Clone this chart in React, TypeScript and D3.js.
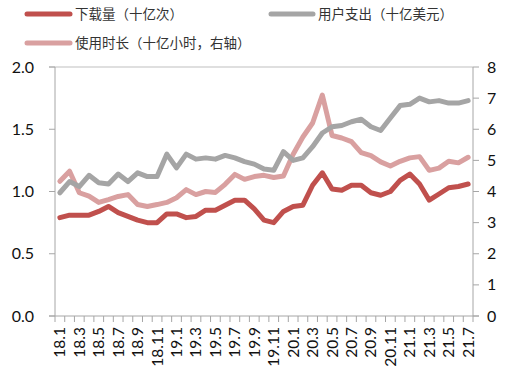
import React from "react";
import * as d3 from "d3";

const categories = [
  "18.1","18.2","18.3","18.4","18.5","18.6","18.7","18.8","18.9","18.10","18.11","18.12",
  "19.1","19.2","19.3","19.4","19.5","19.6","19.7","19.8","19.9","19.10","19.11","19.12",
  "20.1","20.2","20.3","20.4","20.5","20.6","20.7","20.8","20.9","20.10","20.11","20.12",
  "21.1","21.2","21.3","21.4","21.5","21.6","21.7",
];

const downloads = [
  0.79,0.81,0.81,0.81,0.84,0.88,0.83,0.80,0.77,0.75,0.75,0.82,
  0.82,0.79,0.80,0.85,0.85,0.89,0.93,0.93,0.86,0.77,0.75,0.84,
  0.88,0.89,1.05,1.15,1.02,1.01,1.05,1.05,0.99,0.97,1.00,1.09,
  1.14,1.06,0.93,0.98,1.03,1.04,1.06,
];

const spending = [
  0.99,1.08,1.04,1.13,1.07,1.06,1.14,1.08,1.15,1.12,1.12,1.30,
  1.19,1.30,1.26,1.27,1.26,1.29,1.27,1.24,1.22,1.18,1.17,1.32,
  1.25,1.27,1.36,1.47,1.52,1.53,1.56,1.58,1.52,1.49,1.59,1.69,
  1.70,1.75,1.72,1.73,1.71,1.71,1.73,
];

const usageHours = [
  4.33,4.65,3.96,3.85,3.65,3.74,3.84,3.90,3.58,3.52,3.58,3.65,
  3.80,4.06,3.90,4.00,3.97,4.23,4.55,4.39,4.48,4.52,4.45,4.50,
  5.20,5.75,6.20,7.10,5.80,5.72,5.60,5.25,5.15,4.95,4.82,4.97,
  5.08,5.12,4.68,4.75,4.97,4.92,5.10,
];

const leftTicks = [0, 0.5, 1.0, 1.5, 2.0];
const rightTicks = [0, 1, 2, 3, 4, 5, 6, 7, 8];

const seriesNames = ["下载量（十亿次）", "用户支出（十亿美元）", "使用时长（十亿小时，右轴）"];
const colors = ["#c0504d", "#a5a5a5", "#d9a0a0"];

export default function App() {
  const W = 510, H = 375;
  const left = 55, right = 473, top = 67, bottom = 316;
  const x = d3.scaleBand<string>().domain(categories).range([left, right]).padding(0);
  const yL = d3.scaleLinear().domain([0, 2]).range([bottom, top]);
  const yR = d3.scaleLinear().domain([0, 8]).range([bottom, top]);
  const cx = (c: string) => (x(c) as number) + x.bandwidth() / 2;

  const lineL = d3.line<number>().x((_, i) => cx(categories[i])).y((d) => yL(d)).curve(d3.curveLinear);
  const lineR = d3.line<number>().x((_, i) => cx(categories[i])).y((d) => yR(d)).curve(d3.curveLinear);

  const axisColor = "#a6a6a6";
  const font = "Lato, 'Liberation Sans', sans-serif";
  const boundaries = categories.map((c) => x(c) as number).concat([right]);

  return (
    <svg width={W} height={H} style={{ position: "absolute", left: 0, top: 0, background: "#fff" }}>
      {/* legend */}
      <g fontFamily="'Noto Sans CJK SC', sans-serif" fontSize={13.5} fill="#333">
        <line x1={27} x2={70} y1={14} y2={14} stroke={colors[0]} strokeWidth={5} strokeLinecap="round" />
        <text x={75} y={19}>{seriesNames[0]}</text>
        <line x1={271} x2={313} y1={14} y2={14} stroke={colors[1]} strokeWidth={5} strokeLinecap="round" />
        <text x={318} y={19}>{seriesNames[1]}</text>
        <line x1={27} x2={70} y1={43} y2={43} stroke={colors[2]} strokeWidth={5} strokeLinecap="round" />
        <text x={75} y={48}>{seriesNames[2]}</text>
      </g>

      {/* top border */}
      <line x1={left - 6} x2={right} y1={top} y2={top} stroke="#bfbfbf" strokeWidth={1} />

      {/* left axis */}
      <line x1={left} x2={left} y1={top} y2={bottom} stroke={axisColor} strokeWidth={1} />
      {leftTicks.map((t) => (
        <g key={"l" + t}>
          <line x1={left - 6} x2={left} y1={yL(t)} y2={yL(t)} stroke={axisColor} />
          <text x={34} y={yL(t) + 5.5} textAnchor="end" fontFamily={font} fontSize={16} fill="#111">
            {t.toFixed(1)}
          </text>
        </g>
      ))}

      {/* right axis */}
      <line x1={right} x2={right} y1={top} y2={bottom} stroke={axisColor} strokeWidth={1} />
      {rightTicks.map((t) => (
        <g key={"r" + t}>
          <line x1={right} x2={right + 6} y1={yR(t)} y2={yR(t)} stroke={axisColor} />
          <text x={487} y={yR(t) + 5.5} textAnchor="start" fontFamily={font} fontSize={16} fill="#111">
            {t}
          </text>
        </g>
      ))}

      {/* x axis */}
      <line x1={left - 6} x2={right + 6} y1={bottom} y2={bottom} stroke={axisColor} strokeWidth={1} />
      {boundaries.map((b, i) => (
        <line key={"xt" + i} x1={b} x2={b} y1={bottom} y2={bottom + 6} stroke={axisColor} />
      ))}
      {categories.map((c, i) =>
        i % 2 === 0 ? (
          <text
            key={"xl" + c}
            transform={`translate(${cx(c) + 5.5},${bottom + 11}) rotate(-90)`}
            textAnchor="end"
            fontFamily={font}
            fontSize={15.5}
            fill="#111"
          >
            {c}
          </text>
        ) : null
      )}

      {/* series */}
      <path d={lineR(usageHours) || ""} fill="none" stroke={colors[2]} strokeWidth={5} strokeLinejoin="round" strokeLinecap="round" />
      <path d={lineL(spending) || ""} fill="none" stroke={colors[1]} strokeWidth={5} strokeLinejoin="round" strokeLinecap="round" />
      <path d={lineL(downloads) || ""} fill="none" stroke={colors[0]} strokeWidth={5} strokeLinejoin="round" strokeLinecap="round" />
    </svg>
  );
}
